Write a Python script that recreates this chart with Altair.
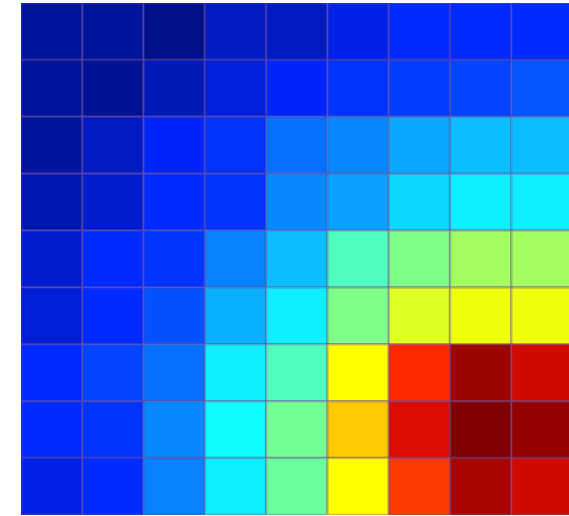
import altair as alt
import pandas as pd

# Cell values (0..1), one list per row from top to bottom
row0 = [0.02, 0.02, 0.00, 0.06, 0.06, 0.10, 0.13, 0.13, 0.13]
row1 = [0.02, 0.01, 0.05, 0.09, 0.12, 0.14, 0.15, 0.16, 0.18]
row2 = [0.02, 0.06, 0.12, 0.14, 0.21, 0.238, 0.275, 0.30, 0.30]
row3 = [0.04, 0.07, 0.13, 0.14, 0.238, 0.266, 0.33, 0.357, 0.357]
row4 = [0.07, 0.13, 0.14, 0.23, 0.30, 0.44, 0.49, 0.53, 0.53]
row5 = [0.08, 0.13, 0.173, 0.284, 0.357, 0.49, 0.59, 0.61, 0.61]
row6 = [0.13, 0.16, 0.21, 0.357, 0.44, 0.625, 0.85, 0.97, 0.92]
row7 = [0.13, 0.14, 0.238, 0.37, 0.48, 0.68, 0.91, 1.00, 0.98]
row8 = [0.10, 0.13, 0.23, 0.357, 0.47, 0.625, 0.83, 0.96, 0.92]
rows = [row0, row1, row2, row3, row4, row5, row6, row7, row8]

# Jet-like colormap stops
jet_stops = [0.0, 0.125, 0.375, 0.625, 0.875, 1.0]
jet_colors = ["#00108a", "#0026ff", "#10ffff", "#ffff00", "#ff1000", "#800000"]

records = []
for r, vals in enumerate(rows):
    for c, v in enumerate(vals):
        records.append({"col": c, "col2": c + 1, "row": r, "row2": r + 1, "value": v})
df = pd.DataFrame(records)

chart = (
    alt.Chart(df)
    .mark_rect(stroke="#6a4a9a", strokeOpacity=0.35, strokeWidth=2.5, clip=True)
    .encode(
        x=alt.X("col:Q", scale=alt.Scale(domain=[0, 8.94], nice=False, zero=False), axis=None),
        x2="col2:Q",
        y=alt.Y("row:Q", scale=alt.Scale(domain=[0, 9], reverse=True, nice=False), axis=None),
        y2="row2:Q",
        color=alt.Color(
            "value:Q",
            scale=alt.Scale(domain=jet_stops, range=jet_colors, interpolate="rgb"),
            legend=None,
        ),
    )
    .properties(
        width=548,
        height=512,
        autosize=alt.AutoSizeParams(type="none"),
        padding={"left": 21, "top": 3, "right": 0, "bottom": 0},
    )
    .configure_view(stroke=None)
)

chart.save("out.html", embed_options={"renderer": "svg", "actions": False})
